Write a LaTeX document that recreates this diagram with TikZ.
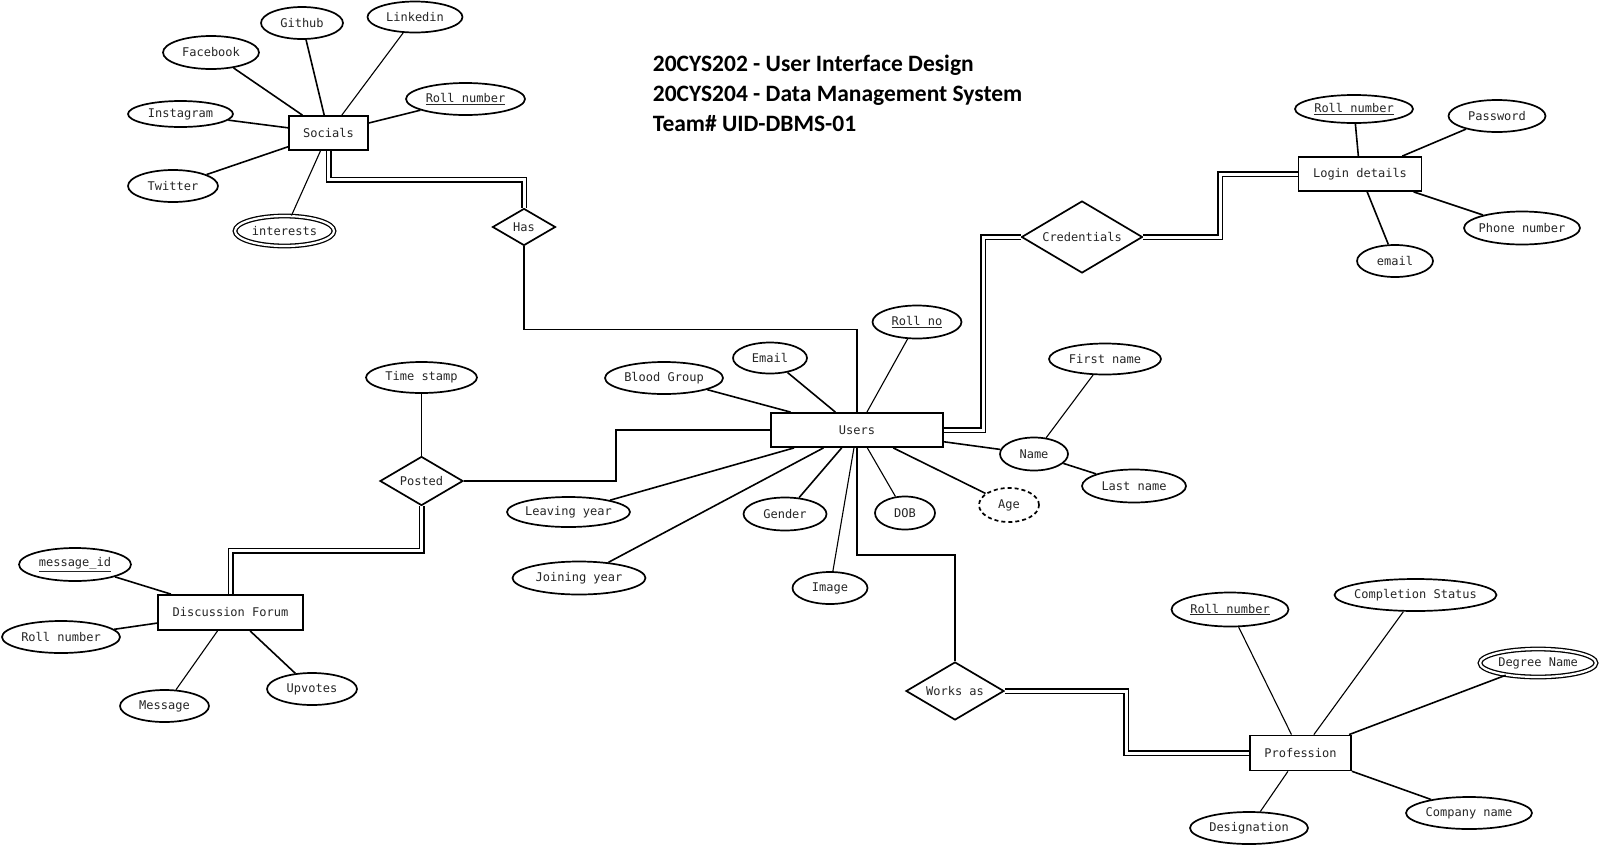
\documentclass[tikz,border=0pt]{standalone}
\usepackage{fontspec}
\newfontfamily\monofnt{DejaVu Sans Mono}
\newfontfamily\titlefnt{Carlito}
\usetikzlibrary{shapes.geometric}
\newcommand{\zw}[1]{\makebox[0pt]{#1}}
\begin{document}
\begin{tikzpicture}[x=1pt,y=-1pt,
  sz/.style 2 args={minimum width=#1pt, minimum height=#2pt},
  lbl/.style={font=\monofnt\fontsize{12}{14}\selectfont, text=black!85},
  attr/.style={ellipse, draw, line width=1.7pt, inner sep=0pt, lbl},
  multi/.style={attr, double, double distance=2.2pt, line width=1.3pt},
  derived/.style={attr, dash pattern=on 4pt off 3pt},
  entity/.style={rectangle, draw, line width=1.8pt, inner sep=0pt, lbl},
  rel/.style={diamond, draw, line width=1.7pt, inner sep=0pt, lbl},
  conn/.style={line width=1.6pt},
  thinconn/.style={line width=1.1pt},
  dbl/.style={double, double distance=3pt, line width=1.5pt},
  titletext/.style={font=\titlefnt\bfseries\fontsize{23.5}{29}\selectfont, anchor=base west, inner sep=0pt}
]
\fill[white] (0,0) rectangle (1600,847);
\useasboundingbox (0,0) rectangle (1600,847);

% Title
\node[titletext] (t1) at (652.7,71.5) {20CYS202 - User Interface Design};
\node[titletext] (t2) at (652.7,101.5) {20CYS204 - Data Management System};
\node[titletext] (t3) at (652.7,131) {Team\# UID-DBMS-01};

% Socials
\node[entity, sz={79}{34}] (soc) at (328.5,133) {\zw{Socials}};
\node[attr, sz={82}{32}] (gh) at (302,23) {\zw{Github}};
\node[attr, sz={95}{31}] (li) at (415,17) {\zw{Linkedin}};
\node[attr, sz={96}{33}] (fb) at (211,52.5) {\zw{Facebook}};
\node[attr, sz={105}{26}] (ig) at (180.5,114) {\zw{Instagram}};
\node[attr, sz={119}{32}] (sroll) at (465.5,99) {\zw{\underline{Roll number}}};
\node[attr, sz={90}{32}] (tw) at (173,186) {\zw{Twitter}};
\node[multi, sz={99}{30}] (int) at (284.5,231) {\zw{interests}};
\node[rel, sz={63}{37}] (has) at (524,227) {\zw{Has}};

% Users
\node[entity, sz={172}{34}] (users) at (857,430) {\zw{Users}};
\node[attr, sz={89}{33}] (uroll) at (917,322) {\zw{\underline{Roll no}}};
\node[attr, sz={74}{31}] (uemail) at (770,358) {\zw{Email}};
\node[attr, sz={118}{32}] (blood) at (664,378) {\zw{Blood Group}};
\node[attr, sz={123}{30}] (leave) at (568.5,512) {\zw{Leaving year}};
\node[attr, sz={133}{33}] (join) at (579,578) {\zw{Joining year}};
\node[attr, sz={83}{33}] (gender) at (785,514) {\zw{Gender}};
\node[attr, sz={75}{32}] (image) at (830,588) {\zw{Image}};
\node[attr, sz={60}{33}] (dob) at (905,513) {\zw{DOB}};
\node[derived, sz={60}{34}] (age) at (1009,505) {\zw{Age}};
\node[attr, sz={68}{33}] (name) at (1034,454) {\zw{Name}};
\node[attr, sz={112}{31}] (fname) at (1105,359) {\zw{First name}};
\node[attr, sz={104}{33}] (lname) at (1134,486) {\zw{Last name}};

% Login
\node[rel, sz={121}{72}] (cred) at (1082,237) {\zw{Credentials}};
\node[entity, sz={123}{34}] (login) at (1360,174) {\zw{Login details}};
\node[attr, sz={118}{28}] (lroll) at (1354,109) {\zw{\underline{Roll number}}};
\node[attr, sz={97}{32}] (pwd) at (1497,116) {\zw{Password}};
\node[attr, sz={116}{33}] (phone) at (1522,228) {\zw{Phone number}};
\node[attr, sz={76}{32}] (lemail) at (1395,261) {\zw{email}};

% Profession
\node[rel, sz={98}{58}] (works) at (955,691) {\zw{Works as}};
\node[entity, sz={101}{35}] (prof) at (1300.5,753) {\zw{Profession}};
\node[attr, sz={117}{34}] (proll) at (1230,609.5) {\zw{\underline{Roll number}}};
\node[attr, sz={162}{32}] (comp) at (1415.5,595) {\zw{Completion Status}};
\node[multi, sz={116}{28}] (degree) at (1538,663) {\zw{Degree Name}};
\node[attr, sz={126}{32}] (company) at (1469,813) {\zw{Company name}};
\node[attr, sz={118}{32}] (desig) at (1249,828) {\zw{Designation}};

% Discussion forum
\node[attr, sz={111}{31}] (ts) at (421.5,377.5) {\zw{Time stamp}};
\node[rel, sz={83}{49}] (posted) at (421.5,481) {\zw{Posted}};
\node[entity, sz={145}{35}] (df) at (230.5,612.5) {\zw{Discussion Forum}};
\node[attr, sz={112}{33}] (msgid) at (75,564.5) {\zw{\underline{message\_id}}};
\node[attr, sz={118}{32}] (droll) at (61,637) {\zw{Roll number}};
\node[attr, sz={89}{32}] (msg) at (164.5,706) {\zw{Message}};
\node[attr, sz={90}{32}] (up) at (312,689) {\zw{Upvotes}};

% helper coordinates
\coordinate (pu) at (616,430);
\coordinate (uc) at (983,430);
\coordinate (cl) at (1220,237);
\coordinate (wp) at (1126,691);

% Socials connectors
\draw[conn] (fb) -- (soc);
\draw[conn] (gh) -- (soc);
\draw[thinconn] (li) -- (soc);
\draw[conn] (sroll) -- (soc);
\draw[conn] (ig) -- (soc);
\draw[conn] (tw) -- (soc);
\draw[thinconn] (int) -- (soc);
\draw[dbl] (soc.south) -- ++(0,29) -| (has.north);
\draw[conn] (has.south) -- ++(0,83) -| (users.north);

% Users connectors
\draw[thinconn] (uroll) -- (users);
\draw[conn] (uemail) -- (users);
\draw[conn] (blood) -- (users);
\draw[conn] (leave) -- (users);
\draw[conn] (join) -- (users);
\draw[conn] (gender) -- (users);
\draw[thinconn] (image) -- (users);
\draw[thinconn] (dob) -- (users);
\draw[conn] (age) -- (users);
\draw[conn] (name) -- (users);
\draw[thinconn] (fname) -- (name);
\draw[conn] (lname) -- (name);
\draw[conn] (posted.east) -| (pu) -- (users.west);
\draw[dbl] (users.east) -- (uc) |- (cred.west);
\draw[conn] (users.south) -- ++(0,107) -| (works.north);

% Login connectors
\draw[dbl] (cred.east) -- (cl) |- (login.west);
\draw[conn] (lroll) -- (login);
\draw[conn] (pwd) -- (login);
\draw[conn] (phone) -- (login);
\draw[conn] (lemail) -- (login);

% Profession connectors
\draw[dbl] (works.east) -- (wp) |- (prof.west);
\draw[thinconn] (proll) -- (prof);
\draw[thinconn] (comp) -- (prof);
\draw[conn] (degree) -- (prof);
\draw[conn] (company) -- (prof);
\draw[thinconn] (desig) -- (prof);

% Discussion connectors
\draw[conn] (ts) -- (posted);
\draw[dbl] (posted.south) -- ++(0,44.5) -| (df.north);
\draw[conn] (msgid) -- (df);
\draw[conn] (droll) -- (df);
\draw[thinconn] (msg) -- (df);
\draw[conn] (up) -- (df);
\end{tikzpicture}
\end{document}
